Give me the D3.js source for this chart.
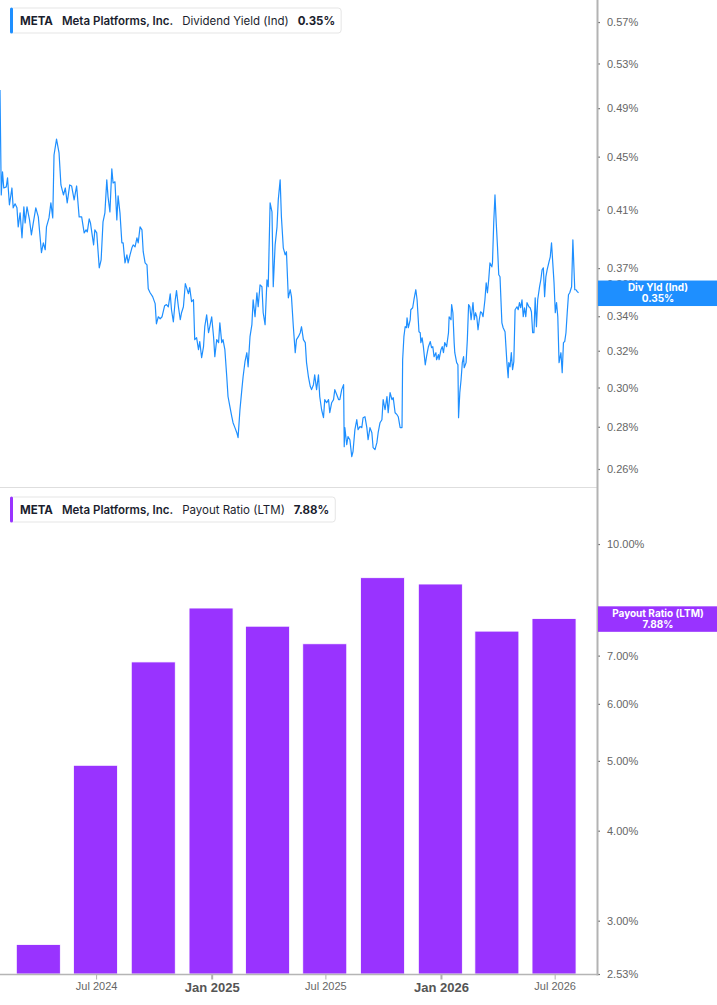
<!DOCTYPE html>
<html><head><meta charset="utf-8">
<script src="https://cdn.jsdelivr.net/npm/d3@7/dist/d3.min.js"></script>
<style>
html,body{margin:0;padding:0;background:#fff;}
svg{display:block;}
</style></head><body>
<svg id="chart" width="717" height="1005"></svg>
<script>
// ---------- DATA ----------
const seriesStart = "2024-01-30";
// Dividend Yield (Ind), %: days since seriesStart
const yieldDays = [0,2,4,6,10,12,15,19,21,24,27,29,32,35,38,40,43,47,50,53,57,61,66,69,72,74,78,81,84,86,90,94,97,101,104,107,111,114,118,122,126,130,134,137,139,142,144,149,151,154,158,161,164,167,170,172,175,178,180,183,186,188,191,194,196,199,202,204,207,210,212,215,218,220,223,226,228,231,234,236,239,243,247,249,252,255,258,262,265,268,271,273,276,279,281,284,287,289,292,295,297,300,302,305,308,310,313,316,318,321,324,326,329,332,334,337,340,342,345,348,350,353,355,358,361,363,366,369,371,374,377,379,382,385,387,390,393,395,398,401,403,406,409,411,414,417,419,422,425,427,430,433,435,438,441,443,446,448,451,454,456,459,462,464,467,470,472,475,478,480,483,486,488,491,494,496,499,501,504,507,509,512,515,517,520,523,525,528,531,533,536,539,541,544,547,548,549,552,554,557,560,562,565,568,570,573,576,578,581,584,586,589,592,594,597,600,602,605,608,610,613,616,618,621,624,626,629,632,634,637,640,641,643,645,647,648,650,653,654,657,659,661,662,664,667,669,670,672,674,677,679,682,685,687,689,691,694,695,698,699,702,704,706,708,711,714,715,718,719,721,723,724,727,729,730,732,734,736,738,739,742,744,746,748,750,753,755,757,759,761,763,765,767,769,772,774,776,778,780,783,784,786,788,790,792,794,796,799,801,804,807,809,810,812,814,816,818,820,823,825,827,829,831,833,835,837,839,842,844,846,848,850,852,854,856,859,861,863,865,867,869,871,874,876,878,880,882,884,886,888,890,893,895,897,899,901,903,905,907,910,912,914,915,917,919,921];
const yieldValues = [
0.5058,0.4207,0.4381,0.4259,0.4267,0.4335,0.4135,0.4259,0.4113,0.4142,
0.4113,0.3978,0.4077,0.3902,0.4120,0.4006,0.4120,0.4027,0.3922,0.4006,
0.4113,0.4048,0.3801,0.3868,0.3821,0.3978,0.4041,0.4149,0.4041,0.4513,
0.4641,0.4529,0.4282,0.4207,0.4259,0.4149,0.4282,0.4274,0.4171,0.4274,
0.4048,0.4048,0.3936,0.3957,0.3943,0.4034,0.4006,0.3854,0.3957,0.3936,
0.3702,0.3754,0.4013,0.4077,0.4320,0.4193,0.4084,0.4404,0.4297,0.4305,
0.4027,0.4200,0.4077,0.3868,0.3868,0.3734,0.3787,0.3734,0.3787,0.3834,
0.3854,0.3841,0.3902,0.3868,0.3978,0.3957,0.3808,0.3734,0.3721,0.3568,
0.3543,0.3519,0.3476,0.3355,0.3397,0.3385,0.3397,0.3463,0.3470,0.3457,
0.3537,0.3439,0.3367,0.3500,0.3556,0.3457,0.3379,0.3421,0.3457,0.3600,
0.3575,0.3537,0.3575,0.3488,0.3500,0.3263,0.3274,0.3206,0.3252,0.3161,
0.3223,0.3338,0.3409,0.3303,0.3338,0.3397,0.3280,0.3167,0.3263,0.3246,
0.3361,0.3246,0.3263,0.3206,0.3057,0.2953,0.2901,0.2850,0.2820,0.2796,
0.2771,0.2747,0.2885,0.2989,0.3057,0.3139,0.3189,0.3111,0.3280,0.3350,
0.3500,0.3397,0.3543,0.3457,0.3593,0.3581,0.3421,0.3350,0.3625,0.3581,
0.4149,0.4084,0.3581,0.3854,0.3978,0.4171,0.4320,0.4048,0.3834,0.3787,
0.3808,0.3512,0.3562,0.3519,0.3338,0.3189,0.3263,0.3280,0.3303,0.3338,
0.3263,0.3246,0.3134,0.3057,0.3005,0.2989,0.3015,0.3068,0.2989,0.3068,
0.2953,0.2885,0.2845,0.2937,0.2921,0.2937,0.2870,0.2921,0.2937,0.2989,
0.2963,0.2937,0.2937,0.2989,0.3015,0.2704,0.2796,0.2713,0.2752,0.2737,
0.2657,0.2681,0.2786,0.2835,0.2786,0.2801,0.2796,0.2845,0.2850,0.2796,
0.2737,0.2796,0.2771,0.2699,0.2690,0.2723,0.2771,0.2820,0.2835,0.2937,
0.2885,0.2953,0.2870,0.2973,0.2937,0.2947,0.2870,0.2860,0.2850,0.2796,
0.2796,0.3150,0.3280,0.3338,0.3332,0.3391,0.3332,0.3379,0.3439,0.3451,
0.3500,0.3543,0.3562,0.3500,0.3309,0.3303,0.3246,0.3274,0.3223,0.3122,
0.3167,0.3223,0.3252,0.3217,0.3223,0.3167,0.3189,0.3150,0.3178,0.3150,
0.3206,0.3223,0.3189,0.3246,0.3223,0.3303,0.3397,0.3379,0.3470,0.3421,
0.3246,0.3189,0.3134,0.3122,0.2845,0.2973,0.3041,0.3134,0.3167,0.3106,
0.3134,0.3263,0.3470,0.3457,0.3379,0.3482,0.3379,0.3421,0.3397,0.3320,
0.3379,0.3427,0.3421,0.3397,0.3500,0.3606,0.3543,0.3625,0.3734,0.3708,
0.3734,0.4006,0.4207,0.4006,0.3841,0.3657,0.3644,0.3361,0.3332,0.3309,
0.3134,0.3052,0.3134,0.3111,0.3189,0.3095,0.3139,0.3439,0.3457,0.3439,
0.3482,0.3451,0.3500,0.3397,0.3451,0.3397,0.3482,0.3457,0.3451,0.3427,
0.3303,0.3303,0.3512,0.3338,0.3500,0.3581,0.3625,0.3689,0.3702,0.3519,
0.3644,0.3689,0.3741,0.3774,0.3868,0.3734,0.3606,0.3421,0.3482,0.3397,
0.3134,0.3189,0.3079,0.3246,0.3252,0.3303,0.3421,0.3531,0.3543,0.3581,
0.3888,0.3670,0.3562,0.3562,0.3550,0.3543];

// Payout Ratio (LTM), % by quarter end
const payoutDates = ["2024-03-31","2024-06-30","2024-09-30","2024-12-31","2025-03-31","2025-06-30","2025-09-30","2025-12-31","2026-03-31","2026-06-30"];
const payoutValues = [2.78,4.93,6.86,8.15,7.69,7.27,8.98,8.80,7.57,7.88];

// axis ticks
const yieldTicks = [0.26,0.28,0.30,0.32,0.34,0.36,0.37,0.41,0.45,0.49,0.53,0.57];
const payoutTicks = [2.53,3,4,5,6,7,10];
const xTickDates = ["2024-07-01","2025-01-01","2025-07-01","2026-01-01","2026-07-01"];
const xTickLabels = ["Jul 2024","Jan 2025","Jul 2025","Jan 2026","Jul 2026"];
const xTickMajor = [false,true,false,true,false];

const ticker = "META", company = "Meta Platforms, Inc.";
const yieldName = "Dividend Yield (Ind)", yieldShort = "Div Yld (Ind)", yieldLast = "0.35%";
const payoutName = "Payout Ratio (LTM)", payoutLast = "7.88%";

// ---------- CHART ----------
const BLUE = "#1e8fff", PURPLE = "#9933ff";
const axisX = 597, topBottom = 487, botBase = 974;
const parse = d3.timeParse("%Y-%m-%d");
const base = parse(seriesStart);
const svg = d3.select("#chart");

const x = d3.scaleTime().domain([base, d3.timeDay.offset(base, 952)]).range([0, 598]);
const yTop = d3.scaleLog().domain([0.2519, 0.5925]).range([topBottom, 0]);
const yBot = d3.scaleLog().domain([2.53, 12.0]).range([botBase, topBottom]);

// panel separator
svg.append("line").attr("x1", 0).attr("x2", axisX).attr("y1", topBottom + 0.5).attr("y2", topBottom + 0.5)
  .attr("stroke", "#dedede").attr("stroke-width", 1);

// clip for top panel
svg.append("clipPath").attr("id", "clipTop").append("rect")
  .attr("x", 0).attr("y", 0).attr("width", axisX).attr("height", topBottom);

const lineData = yieldDays.map((d, i) => ({ date: d3.timeDay.offset(base, d), v: yieldValues[i] }))
  .filter(d => d.v != null);
svg.append("path").datum(lineData)
  .attr("clip-path", "url(#clipTop)")
  .attr("d", d3.line().x(d => x(d.date)).y(d => yTop(d.v)))
  .attr("fill", "none").attr("stroke", BLUE).attr("stroke-width", 1.2).attr("stroke-linejoin", "round");

// bars
const barW = 44;
svg.append("g").selectAll("rect").data(payoutDates.map((d, i) => ({ date: parse(d), v: payoutValues[i] })))
  .join("rect")
  .attr("x", d => x(d.date) - barW / 2)
  .attr("y", d => yBot(d.v))
  .attr("width", barW)
  .attr("height", d => yBot(2.53) - yBot(d.v))
  .attr("fill", PURPLE)
  .attr("stroke", "#ffffff").attr("stroke-width", 0.8);

// right axes
const fmtPct = d => d.toFixed(2) + "%";
function styleY(g) {
  g.select(".domain").remove();
  g.selectAll(".tick line").attr("stroke", "#777").attr("stroke-width", 1.2);
  g.selectAll(".tick text").attr("fill", "#666").style("font-family", "'Liberation Sans', Arial, sans-serif").style("font-size", "11px");
}
svg.append("g").attr("transform", `translate(${axisX},0)`)
  .call(d3.axisRight(yTop).tickValues(yieldTicks).tickFormat(fmtPct).tickSize(3).tickPadding(7))
  .call(styleY);
svg.append("g").attr("transform", `translate(${axisX},0)`)
  .call(d3.axisRight(yBot).tickValues(payoutTicks).tickFormat(fmtPct).tickSize(3).tickPadding(7))
  .call(styleY);

// bottom axis
svg.append("line").attr("x1", 0).attr("x2", axisX).attr("y1", botBase + 0.5).attr("y2", botBase + 0.5)
  .attr("stroke", "#b5b5b5").attr("stroke-width", 1.5);
const xg = svg.append("g").attr("transform", `translate(0,${botBase + 0.5})`)
  .call(d3.axisBottom(x).tickValues(xTickDates.map(parse)).tickFormat((d, i) => xTickLabels[i]).tickSize(5).tickPadding(3));
xg.select(".domain").remove();
xg.selectAll(".tick line").attr("stroke", "#b0b0b0").attr("stroke-width", (d, i) => xTickMajor[i] ? 2 : 1);
xg.selectAll(".tick text")
  .style("font-family", "'Liberation Sans', Arial, sans-serif")
  .style("font-size", (d, i) => xTickMajor[i] ? "13px" : "11px")
  .style("font-weight", (d, i) => xTickMajor[i] ? "bold" : "normal")
  .attr("fill", (d, i) => xTickMajor[i] ? "#555" : "#666");

// vertical axis line
svg.append("line").attr("x1", axisX + 0.5).attr("x2", axisX + 0.5).attr("y1", 0).attr("y2", botBase + 1.5)
  .attr("stroke", "#b3b3b3").attr("stroke-width", 2);

// value label boxes
function valueBox(yCenter, color, l1, l2) {
  const h = 25.5;
  const g = svg.append("g");
  g.append("rect").attr("x", axisX + 1).attr("y", yCenter - h / 2).attr("width", 717 - axisX).attr("height", h).attr("fill", color);
  const t = g.append("text").attr("x", 658).attr("text-anchor", "middle").attr("fill", "#fff")
    .style("font-family", "Inter, 'Noto Sans', sans-serif").style("font-size", "10px").style("font-weight", "700");
  t.append("tspan").attr("x", 658).attr("y", yCenter - 1.8).text(l1);
  t.append("tspan").attr("x", 658).attr("y", yCenter + 9.2).text(l2);
}
valueBox(yTop(yieldValues[yieldValues.length - 1]) + 0.5, BLUE, yieldShort, yieldLast);
valueBox(yBot(payoutValues[payoutValues.length - 1]) + 0.5, PURPLE, payoutName, payoutLast);

// legends
function legend(y0, color, seriesName, last) {
  const g = svg.append("g");
  const box = g.append("rect").attr("x", 10.5).attr("y", y0 + 0.5).attr("height", 25).attr("rx", 3)
    .attr("fill", "#fff").attr("stroke", "#e5e5e5");
  g.append("rect").attr("x", 10).attr("y", y0).attr("width", 3).attr("height", 26).attr("rx", 1.5).attr("fill", color);
  const t = g.append("text").attr("x", 20).attr("y", y0 + 17)
    .style("font-family", "Inter, 'Noto Sans', sans-serif").style("font-size", "11.5px").attr("fill", "#1b1e2e");
  t.append("tspan").style("font-weight", "700").text(ticker);
  t.append("tspan").attr("dx", 9).style("font-weight", "600").text(company);
  t.append("tspan").attr("dx", 9).style("font-weight", "400").text(seriesName);
  t.append("tspan").attr("dx", 9).style("font-weight", "700").text(last);
  const bb = t.node().getBBox();
  box.attr("width", bb.x + bb.width + 6 - 10.5);
}
legend(7.5, BLUE, yieldName, yieldLast);
legend(496.5, PURPLE, payoutName, payoutLast);
</script>
</body></html>
